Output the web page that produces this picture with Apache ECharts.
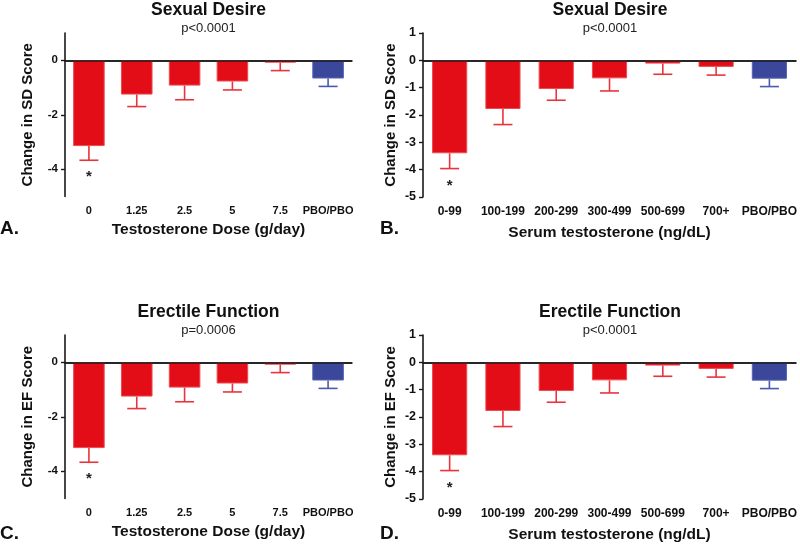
<!DOCTYPE html>
<html><head><meta charset="utf-8">
<script src="https://cdn.jsdelivr.net/npm/echarts@6/dist/echarts.min.js"></script>
<style>html,body{margin:0;padding:0;background:#fff}#c{width:800px;height:549px}</style>
</head><body><div id="c"></div>
<script>
// ---------------- DATA ----------------
const doseCategories = ['0', '1.25', '2.5', '5', '7.5', 'PBO/PBO'];
const serumCategories = ['0-99', '100-199', '200-299', '300-499', '500-699', '700+', 'PBO/PBO'];

const sdDoseMean = [-3.15, -1.26, -0.93, -0.78, -0.09, -0.67];
const sdDoseSem = [0.52, 0.44, 0.52, 0.31, 0.29, 0.29];
const sdSerumMean = [-3.40, -1.78, -1.05, -0.66, -0.12, -0.24, -0.67];
const sdSerumSem = [0.56, 0.57, 0.41, 0.46, 0.39, 0.30, 0.29];

const efDoseMean = [-3.15, -1.26, -0.93, -0.78, -0.09, -0.67];
const efDoseSem = [0.52, 0.44, 0.52, 0.31, 0.29, 0.29];
const efSerumMean = [-3.40, -1.78, -1.05, -0.66, -0.12, -0.24, -0.67];
const efSerumSem = [0.56, 0.57, 0.41, 0.46, 0.39, 0.30, 0.29];

const doseSignificant = [1, 0, 0, 0, 0, 0];
const serumSignificant = [1, 0, 0, 0, 0, 0, 0];

const doseYTicks = [0, -2, -4];
const serumYTicks = [1, 0, -1, -2, -3, -4, -5];

const panelTitles = ['Sexual Desire', 'Sexual Desire', 'Erectile Function', 'Erectile Function'];
const panelPValues = ['p<0.0001', 'p<0.0001', 'p=0.0006', 'p<0.0001'];
const panelLetters = ['A.', 'B.', 'C.', 'D.'];
const yAxisNames = ['Change in SD Score', 'Change in SD Score', 'Change in EF Score', 'Change in EF Score'];
const xAxisNames = ['Testosterone Dose (g/day)', 'Serum testosterone (ng/dL)', 'Testosterone Dose (g/day)', 'Serum testosterone (ng/dL)'];
const placeboCategory = 'PBO/PBO';

// ---------------- STYLE / LAYOUT ----------------
const FONT = '"Liberation Sans", Arial, Helvetica, sans-serif';
const RED = '#E30D17', RED_BORDER = '#EE4A52', RED_ERR = '#E8343C';
const BLUE = '#3A479A', BLUE_BORDER = '#5664B4', BLUE_ERR = '#4A5AAE';
const AXIS = '#1a1a1a';

const panels = [
  { grid: { left: 65, top: 33, width: 287, height: 163.5 }, cats: doseCategories, mean: sdDoseMean, sem: sdDoseSem, sig: doseSignificant, yTicks: doseYTicks, tickFont: 11, yNameGap: 30, xNameGap: 25, titleY: 10, pY: 28, letter: [0, 229] },
  { grid: { left: 423, top: 33, width: 374, height: 164 }, cats: serumCategories, mean: sdSerumMean, sem: sdSerumSem, sig: serumSignificant, yTicks: serumYTicks, tickFont: 12, yNameGap: 25, xNameGap: 28, titleY: 10, pY: 28, letter: [380, 229] },
  { grid: { left: 65, top: 335, width: 287, height: 163.5 }, cats: doseCategories, mean: efDoseMean, sem: efDoseSem, sig: doseSignificant, yTicks: doseYTicks, tickFont: 11, yNameGap: 30, xNameGap: 25, titleY: 312, pY: 330, letter: [0, 534] },
  { grid: { left: 423, top: 335, width: 374, height: 164 }, cats: serumCategories, mean: efSerumMean, sem: efSerumSem, sig: serumSignificant, yTicks: serumYTicks, tickFont: 12, yNameGap: 25, xNameGap: 28, titleY: 312, pY: 330, letter: [380, 534] }
];

function renderErr(params, api) {
  const i = api.value(0), m = api.value(1), s = api.value(2), sig = api.value(3), pbo = api.value(4);
  const top = api.coord([i, m]);
  const bot = api.coord([i, m - s]);
  const half = 9.5;
  const color = pbo ? BLUE_ERR : RED_ERR;
  const children = [
    { type: 'line', shape: { x1: top[0], y1: top[1], x2: bot[0], y2: bot[1] }, style: { stroke: color, lineWidth: 1.6 } },
    { type: 'line', shape: { x1: bot[0] - half, y1: bot[1], x2: bot[0] + half, y2: bot[1] }, style: { stroke: color, lineWidth: 1.6 } }
  ];
  if (sig) {
    children.push({ type: 'text', style: { text: '*', x: bot[0], y: bot[1] + 17, align: 'center', verticalAlign: 'middle', font: 'bold 15px ' + FONT, fill: '#222' } });
  }
  return { type: 'group', children };
}

const option = { animation: false, backgroundColor: '#fff', grid: [], xAxis: [], yAxis: [], series: [], graphic: [] };

panels.forEach((p, k) => {
  option.grid.push(p.grid);
  option.xAxis.push({
    type: 'category', gridIndex: k, data: p.cats,
    axisLine: { lineStyle: { color: AXIS, width: 1.6 } },
    axisTick: { alignWithLabel: true, length: 5, lineStyle: { color: AXIS, width: 1.4 } },
    axisLabel: { interval: 0, color: '#111', fontFamily: FONT, fontWeight: 'bold', fontSize: p.tickFont, margin: 9 },
    name: xAxisNames[k], nameLocation: 'middle', nameGap: p.xNameGap,
    nameTextStyle: { color: '#111', fontFamily: FONT, fontWeight: 'bold', fontSize: 15.5 }
  });
  option.yAxis.push({
    type: 'value', gridIndex: k, min: -5, max: 1, interval: 1,
    splitLine: { show: false },
    axisLine: { show: true, onZero: false, lineStyle: { color: AXIS, width: 1.6 } },
    axisTick: { show: true, length: 4, customValues: p.yTicks, lineStyle: { color: AXIS, width: 1.4 } },
    axisLabel: { customValues: p.yTicks, color: '#111', fontFamily: FONT, fontWeight: 'bold', fontSize: p.tickFont + 0.5, margin: 7 },
    name: yAxisNames[k], nameLocation: 'middle', nameGap: p.yNameGap,
    nameTextStyle: { color: '#111', fontFamily: FONT, fontWeight: 'bold', fontSize: 15 }
  });
  option.series.push({
    type: 'bar', xAxisIndex: k, yAxisIndex: k, barWidth: '66%',
    data: p.mean.map((v, i) => {
      const pbo = p.cats[i] === placeboCategory;
      return { value: v, itemStyle: { color: pbo ? BLUE : RED, borderColor: pbo ? BLUE_BORDER : RED_BORDER, borderWidth: 1 } };
    }),
    markLine: {
      silent: true, symbol: 'none', label: { show: false },
      lineStyle: { color: AXIS, width: 1.6, type: 'solid' },
      data: [{ yAxis: 0 }]
    }
  });
  option.series.push({
    type: 'custom', xAxisIndex: k, yAxisIndex: k, renderItem: renderErr,
    encode: { x: 0, y: 1 }, z: 3,
    data: p.mean.map((v, i) => [i, v, p.sem[i], p.sig[i], p.cats[i] === placeboCategory ? 1 : 0])
  });
  const cx = p.grid.left + p.grid.width / 2;
  option.graphic.push(
    { type: 'text', x: cx, y: p.titleY, style: { text: panelTitles[k], align: 'center', verticalAlign: 'middle', font: 'bold 17.5px ' + FONT, fill: '#111' } },
    { type: 'text', x: cx, y: p.pY, style: { text: panelPValues[k], align: 'center', verticalAlign: 'middle', font: '13px ' + FONT, fill: '#222' } },
    { type: 'text', x: p.letter[0], y: p.letter[1], style: { text: panelLetters[k], align: 'left', verticalAlign: 'middle', font: 'bold 19px ' + FONT, fill: '#111' } }
  );
});

const chart = echarts.init(document.getElementById('c'));
chart.setOption(option);
</script>
</body></html>
